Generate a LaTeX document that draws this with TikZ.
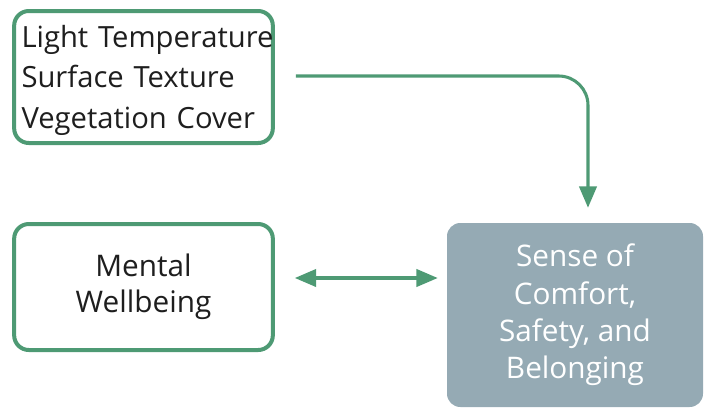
\documentclass[tikz,border=0pt]{standalone}
\usepackage{fontspec}
\setmainfont{Open Sans}
\usetikzlibrary{arrows.meta}
\definecolor{grn}{HTML}{4E9A74}
\definecolor{slate}{HTML}{95AAB4}
\definecolor{ink}{HTML}{1E1E1E}
\begin{document}
\begin{tikzpicture}[x=0.75pt,y=-0.75pt,
  gbox/.style={draw=grn,line width=3pt,rounded corners=11pt,fill=white,text=ink},
  sbox/.style={fill=slate,rounded corners=10pt,text=white,
    font=\fontsize{22.3pt}{28pt}\selectfont,align=center},
  conn/.style={draw=grn,line width=2.3pt}]
\useasboundingbox (0,0) rectangle (704,408);
\node[gbox,minimum width=194pt,minimum height=99pt] (b1) at (143.5,77) {};
\node[text=ink,text width=183pt,inner sep=0pt,align=left,
  font=\fontsize{21.9pt}{30.5pt}\selectfont] (t1) at ([yshift=-2.5pt]b1.center)
  {\mbox{Light Temperature}\\\mbox{Surface Texture}\\\mbox{Vegetation Cover}};
\node[gbox,minimum width=194pt,minimum height=94.5pt,align=center,
  font=\fontsize{22.3pt}{27pt}\selectfont] (b2) at (143.5,287) {Mental\\Wellbeing};
\node[sbox,minimum width=192pt,minimum height=138pt] (b3) at (575,315) {Sense of\\Comfort,\\Safety, and\\Belonging};
\draw[conn,rounded corners=22pt,-{Triangle[length=16pt,width=13pt]}]
  ([xshift=15.75pt,yshift=0.75pt]b1.east) -| ([xshift=9.75pt,yshift=11.25pt]b3.north);
\coordinate (m) at ([yshift=6.75pt]b2.east);
\draw[conn,{Triangle[length=16pt,width=13pt]}-{Triangle[length=16pt,width=13pt]}]
  ([xshift=15pt]m) -- ([xshift=-6.75pt]m -| b3.west);
\end{tikzpicture}
\end{document}
